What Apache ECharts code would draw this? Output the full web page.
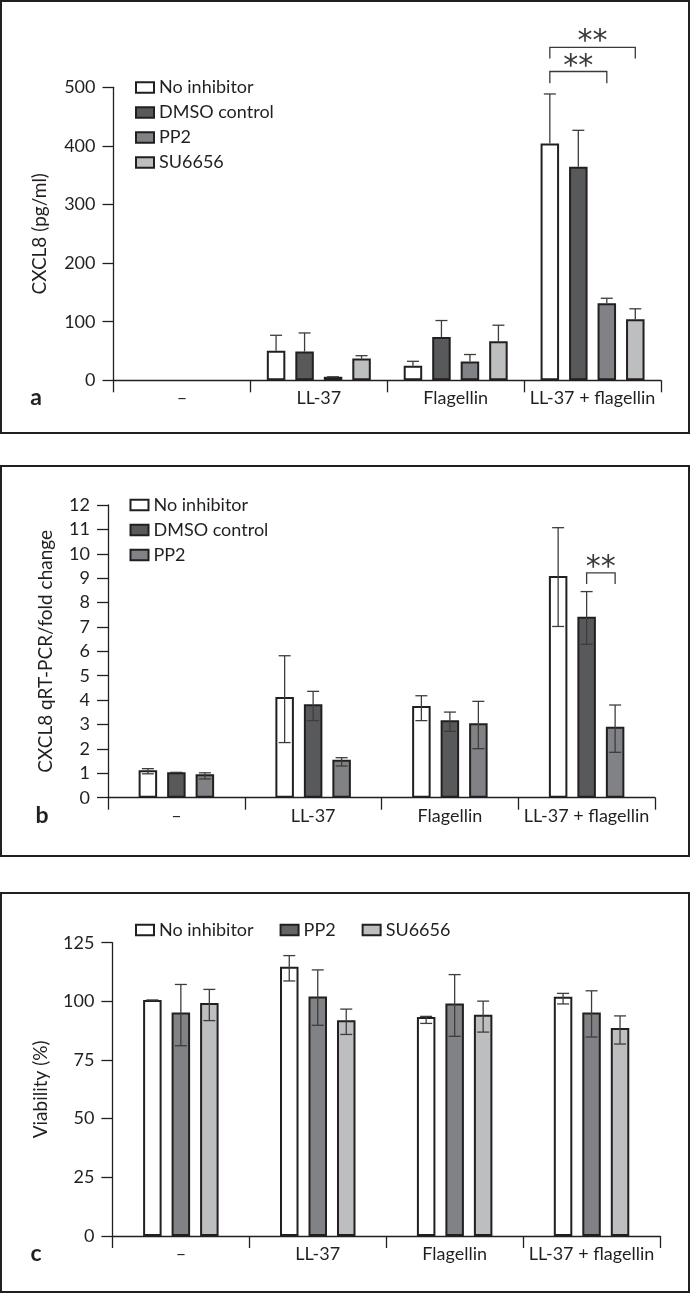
<!DOCTYPE html>
<html>
<head>
<meta charset="utf-8">
<script src="https://cdn.jsdelivr.net/npm/echarts@6/dist/echarts.min.js"></script>
<style>
html,body{margin:0;padding:0;background:#fff;}
#chart{width:691px;height:1294px;}
</style>
</head>
<body>
<div id="chart"></div>
<script>
// ---------- data ----------
const categories = ['–', 'LL-37', 'Flagellin', 'LL-37 + flagellin'];

// Panel a: CXCL8 (pg/ml)
const aNames = ['No inhibitor', 'DMSO control', 'PP2', 'SU6656'];
const aNoInhibitor   = [null, 50.6, 25.0, 404.0];
const aNoInhibitorHi = [null, 76.8, 32.4, 488.6];
const aDMSO          = [null, 49.0, 74.0, 364.6];
const aDMSOHi        = [null, 80.8, 102.0, 426.6];
const aPP2           = [null, 6.0, 32.0, 131.4];
const aPP2Hi         = [null, 6.0, 44.0, 140.0];
const aSU6656        = [null, 37.0, 66.5, 104.0];
const aSU6656Hi      = [null, 42.0, 94.0, 122.0];
const aTicks = {min: 0, max: 500, interval: 100};
// brackets: [category, fromBar, toBar, lineValue, legValue, starValue]
const aBrackets = [[3, 0, 3, 568, 549, 577], [3, 0, 2, 527, 507, 535]];

// Panel b: CXCL8 qRT-PCR/fold change
const bNames = ['No inhibitor', 'DMSO control', 'PP2'];
const bNoInhibitor   = [1.13, 4.13, 3.76, 9.09];
const bNoInhibitorHi = [1.19, 5.82, 4.18, 11.07];
const bNoInhibitorLo = [0.98, 2.26, 3.16, 7.02];
const bDMSO          = [1.04, 3.83, 3.18, 7.42];
const bDMSOHi        = [1.04, 4.36, 3.51, 8.45];
const bDMSOLo        = [1.04, 3.16, 2.72, 6.29];
const bPP2           = [0.96, 1.56, 3.05, 2.91];
const bPP2Hi         = [1.02, 1.64, 3.95, 3.80];
const bPP2Lo         = [0.77, 1.30, 2.01, 1.86];
const bTicks = {min: 0, max: 12, interval: 1};
const bBrackets = [[3, 1, 2, 9.22, 8.76, 9.40]];

// Panel c: Viability (%)
const cNames = ['No inhibitor', 'PP2', 'SU6656'];
const cNoInhibitor   = [100.6, 114.8, 93.3, 102.0];
const cNoInhibitorHi = [100.6, 119.5, 93.6, 103.4];
const cNoInhibitorLo = [100.6, 108.7, 90.6, 98.9];
const cPP2           = [95.2, 102.1, 99.1, 95.2];
const cPP2Hi         = [107.2, 113.4, 111.4, 104.5];
const cPP2Lo         = [81.1, 89.8, 85.1, 84.8];
const cSU6656        = [99.3, 92.0, 94.3, 88.6];
const cSU6656Hi      = [105.1, 96.7, 100.1, 93.8];
const cSU6656Lo      = [91.8, 85.9, 86.9, 81.8];
const cTicks = {min: 0, max: 125, interval: 25};

// ---------- style ----------
const FONT = 'Lato, "Open Sans", sans-serif';
const INK = '#231f20';
const COLORS = {
  'No inhibitor': '#ffffff',
  'DMSO control': '#58595b',
  'PP2': '#808285',
  'SU6656': '#bcbec0'
};
const BW = 18.5;
const GAP_RATIO = 0.54;
const GAP = BW * GAP_RATIO;
const CAP = 12;
const ERR = '#3d3d3d';

function barX(api, cat, n, idx) {
  const c = api.coord([cat, 0]);
  const groupW = n * BW + (n - 1) * GAP;
  return c[0] - groupW / 2 + idx * (BW + GAP) + BW / 2;
}

function errSeries(grid, n, idx, vals, his, los) {
  const data = [];
  vals.forEach((v, i) => {
    if (v == null) return;
    data.push([i, v, his[i], los ? los[i] : v]);
  });
  return {
    type: 'custom', xAxisIndex: grid, yAxisIndex: grid, z: 5, silent: true,
    name: 'err' + grid + '_' + idx,
    data: data,
    renderItem: function (params, api) {
      const cat = api.value(0), v = api.value(1), hi = api.value(2), lo = api.value(3);
      const x = barX(api, cat, n, idx);
      const yHi = api.coord([cat, hi])[1];
      const yLo = api.coord([cat, lo])[1];
      const st = {stroke: ERR, lineWidth: 1.3};
      const ch = [
        {type: 'line', shape: {x1: x, y1: yHi, x2: x, y2: yLo}, style: st},
        {type: 'line', shape: {x1: x - CAP / 2, y1: yHi, x2: x + CAP / 2, y2: yHi}, style: st}
      ];
      if (lo < v) ch.push({type: 'line', shape: {x1: x - CAP / 2, y1: yLo, x2: x + CAP / 2, y2: yLo}, style: st});
      return {type: 'group', children: ch};
    }
  };
}

function bracketSeries(grid, n, brackets) {
  return {
    type: 'custom', xAxisIndex: grid, yAxisIndex: grid, z: 6, silent: true, clip: false,
    name: 'br' + grid,
    data: brackets,
    renderItem: function (params, api) {
      const cat = api.value(0), f = api.value(1), t = api.value(2);
      const top = api.coord([cat, api.value(3)])[1];
      const leg = api.coord([cat, api.value(4)])[1];
      const star = api.coord([cat, api.value(5)])[1];
      const x1 = barX(api, cat, n, f), x2 = barX(api, cat, n, t);
      return {type: 'group', children: [
        {type: 'polyline', shape: {points: [[x1, leg], [x1, top], [x2, top], [x2, leg]]},
         style: {stroke: '#3a3a3a', lineWidth: 1.3, fill: null}},
        {type: 'text', x: (x1 + x2) / 2, y: star,
         style: {text: '**', fontSize: 30, fontFamily: 'DejaVu Sans', fill: '#3a3a3a',
                 align: 'center', verticalAlign: 'middle'}}
      ]};
    }
  };
}

function barSeries(grid, name, data) {
  return {
    type: 'bar', name: name, xAxisIndex: grid, yAxisIndex: grid, data: data,
    barWidth: BW, barGap: (GAP_RATIO * 100) + '%', z: 2, silent: true,
    itemStyle: {color: COLORS[name], borderColor: INK, borderWidth: 2}
  };
}

function xAxis(grid) {
  return {
    type: 'category', gridIndex: grid, data: categories, boundaryGap: true,
    axisLine: {lineStyle: {color: INK, width: 1.3}},
    axisTick: {show: true, length: 12, lineStyle: {color: INK, width: 1.3}},
    axisLabel: {color: INK, fontFamily: FONT, fontSize: 18, margin: 9, interval: 0},
    splitLine: {show: false}
  };
}

function yAxis(grid, ticks, name, gap) {
  return {
    type: 'value', gridIndex: grid, min: ticks.min, max: ticks.max, interval: ticks.interval,
    axisLine: {show: true, lineStyle: {color: INK, width: 1.3}},
    axisTick: {show: true, length: 11, lineStyle: {color: INK, width: 1.3}},
    axisLabel: {color: INK, fontFamily: FONT, fontSize: 18, margin: 18},
    splitLine: {show: false},
    name: name, nameLocation: 'middle', nameGap: gap, nameRotate: 90,
    nameTextStyle: {color: INK, fontFamily: FONT, fontSize: 19}
  };
}

function legend(names, opts) {
  return Object.assign({
    data: names.map(n => ({name: n, icon: 'rect'})),
    itemWidth: 18, itemHeight: 10.5,
    textStyle: {color: INK, fontFamily: FONT, fontSize: 18, lineHeight: 14},
    selectedMode: false
  }, opts);
}

const series = [
  barSeries(0, 'No inhibitor', aNoInhibitor),
  barSeries(0, 'DMSO control', aDMSO),
  barSeries(0, 'PP2', aPP2),
  barSeries(0, 'SU6656', aSU6656),
  errSeries(0, 4, 0, aNoInhibitor, aNoInhibitorHi, null),
  errSeries(0, 4, 1, aDMSO, aDMSOHi, null),
  errSeries(0, 4, 2, aPP2, aPP2Hi, null),
  errSeries(0, 4, 3, aSU6656, aSU6656Hi, null),
  bracketSeries(0, 4, aBrackets),

  barSeries(1, 'No inhibitor', bNoInhibitor),
  barSeries(1, 'DMSO control', bDMSO),
  barSeries(1, 'PP2', bPP2),
  errSeries(1, 3, 0, bNoInhibitor, bNoInhibitorHi, bNoInhibitorLo),
  errSeries(1, 3, 1, bDMSO, bDMSOHi, bDMSOLo),
  errSeries(1, 3, 2, bPP2, bPP2Hi, bPP2Lo),
  bracketSeries(1, 3, bBrackets),

  barSeries(2, 'No inhibitor', cNoInhibitor),
  barSeries(2, 'PP2', cPP2),
  barSeries(2, 'SU6656', cSU6656),
  errSeries(2, 3, 0, cNoInhibitor, cNoInhibitorHi, cNoInhibitorLo),
  errSeries(2, 3, 1, cPP2, cPP2Hi, cPP2Lo),
  errSeries(2, 3, 2, cSU6656, cSU6656Hi, cSU6656Lo)
];

const frame = (y, h) => ({type: 'rect', shape: {x: 1, y: y, width: 688, height: h},
  style: {fill: null, stroke: INK, lineWidth: 2}, silent: true, z: 0});
const panelLabel = (t, x, y) => ({type: 'text', x: x, y: y,
  style: {text: t, fontFamily: FONT, fontWeight: 'bold', fontSize: 23, fill: INK,
          align: 'center', verticalAlign: 'middle'}, silent: true, z: 10});

const option = {
  animation: false,
  backgroundColor: '#ffffff',
  grid: [
    {left: 113.5, right: 30, top: 87.3, bottom: 1294 - 380.3},
    {left: 108, right: 36, top: 505, bottom: 1294 - 797.7},
    {left: 112.4, right: 31, top: 942.7, bottom: 1294 - 1236}
  ],
  xAxis: [xAxis(0), xAxis(1), xAxis(2)],
  yAxis: [
    yAxis(0, aTicks, 'CXCL8 (pg/ml)', 64),
    yAxis(1, bTicks, 'CXCL8 qRT-PCR/fold change', 53),
    yAxis(2, cTicks, 'Viability (%)', 62)
  ],
  legend: [
    legend(aNames, {orient: 'vertical', left: 130, top: 73.5, itemGap: 7}),
    legend(bNames, {orient: 'vertical', left: 124.5, top: 491, itemGap: 7}),
    Object.assign(legend(cNames, {orient: 'horizontal', left: 130, top: 916, itemGap: 26}),
      {data: [{name: 'No inhibitor', icon: 'rect'},
              {name: 'PP2', icon: 'rect', itemStyle: {color: '#636466'}},
              {name: 'SU6656', icon: 'rect'}]})
  ],
  graphic: [
    frame(1, 432), frame(466, 390), frame(893, 399),
    panelLabel('a', 36, 398), panelLabel('b', 42, 816), panelLabel('c', 36, 1254)
  ],
  series: series
};

const chart = echarts.init(document.getElementById('chart'), null, {renderer: 'canvas'});
chart.setOption(option);
</script>
</body>
</html>
